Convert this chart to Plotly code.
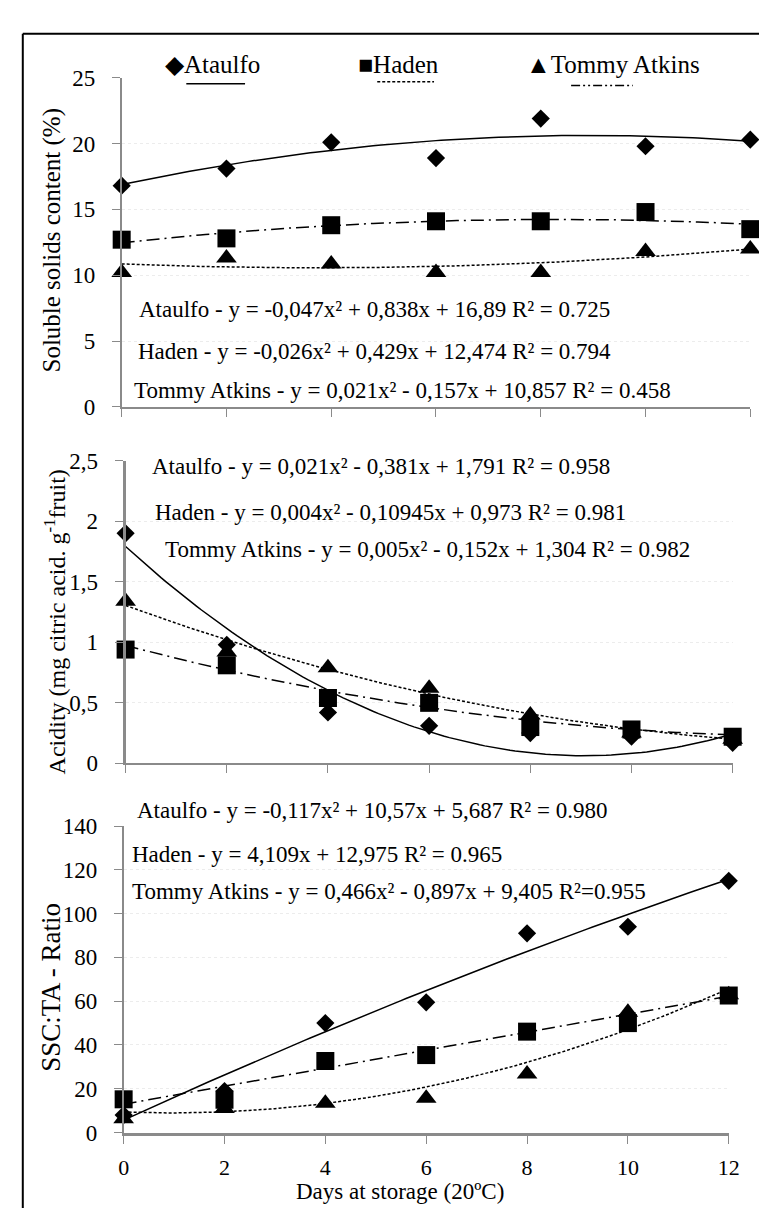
import numpy as np
import plotly.graph_objects as go

W, H = 767, 1213
FONT = "Liberation Serif"

days = [0, 2, 4, 6, 8, 10, 12]

# Panel 1: soluble solids content (%)
ssc_ataulfo = [16.8, 18.1, 20.1, 18.9, 21.9, 19.8, 20.3]
ssc_haden = [12.7, 12.8, 13.8, 14.1, 14.1, 14.8, 13.5]
ssc_tommy = [10.2, 11.3, 10.85, 10.2, 10.2, 11.8, 12.0]
ssc_fit_ataulfo = [-0.047, 0.838, 16.89]
ssc_fit_haden = [-0.026, 0.429, 12.474]
ssc_fit_tommy = [0.021, -0.157, 10.857]

# Panel 2: acidity
ac_ataulfo = [1.90, 0.98, 0.42, 0.31, 0.25, 0.22, 0.17]
ac_haden = [0.94, 0.81, 0.54, 0.50, 0.30, 0.28, 0.22]
ac_tommy = [1.34, 0.92, 0.79, 0.62, 0.40, 0.25, 0.20]
ac_fit_ataulfo = [0.021, -0.381, 1.791]
ac_fit_haden = [0.004, -0.10945, 0.973]
ac_fit_tommy = [0.005, -0.152, 1.304]

# Panel 3: SSC:TA ratio
rt_ataulfo = [8, 19, 50, 59.5, 91, 94, 115]
rt_haden = [15.2, 15, 32.7, 35.4, 46.1, 50, 62.6]
rt_tommy = [6.3, 11, 13.4, 15.7, 26.8, 55, 63]
rt_fit_ataulfo = [-0.117, 10.57, 5.687]
rt_fit_haden = [0.0, 4.109, 12.975]
rt_fit_tommy = [0.466, -0.897, 9.405]

ac_ticks = [0, 0.5, 1, 1.5, 2, 2.5]
ac_ticktext = ["0", "0,5", "1", "1,5", "2", "2,5"]

eq_ssc = ["Ataulfo - y = -0,047x² + 0,838x + 16,89 R² = 0.725",
          "Haden - y = -0,026x² + 0,429x + 12,474 R² = 0.794",
          "Tommy Atkins - y = 0,021x² - 0,157x + 10,857 R² = 0.458"]
eq_ac = ["Ataulfo - y = 0,021x² - 0,381x + 1,791 R² = 0.958",
         "Haden - y = 0,004x² - 0,10945x + 0,973 R² = 0.981",
         "Tommy Atkins - y = 0,005x² - 0,152x + 1,304 R² = 0.982"]
eq_rt = ["Ataulfo - y = -0,117x² + 10,57x + 5,687 R² = 0.980",
         "Haden - y = 4,109x + 12,975 R² = 0.965",
         "Tommy Atkins - y = 0,466x² - 0,897x + 9,405 R²=0.955"]

def px(x):
    return x / W

def py(y):
    return 1 - y / H

xs = np.linspace(0, 12, 121)

HADEN_DASH = "13px,5px,2px,5px"
TOMMY_DASH = "3px,2px"

fig = go.Figure()

panels = [
    ("x", "y", ssc_ataulfo, ssc_haden, ssc_tommy, ssc_fit_ataulfo, ssc_fit_haden, ssc_fit_tommy),
    ("x2", "y2", ac_ataulfo, ac_haden, ac_tommy, ac_fit_ataulfo, ac_fit_haden, ac_fit_tommy),
    ("x3", "y3", rt_ataulfo, rt_haden, rt_tommy, rt_fit_ataulfo, rt_fit_haden, rt_fit_tommy),
]

for xa, ya, a, h, t, fa, fh, ft in panels:
    for coef, dash in [(fa, "solid"), (fh, HADEN_DASH), (ft, TOMMY_DASH)]:
        fig.add_trace(go.Scatter(x=xs, y=np.polyval(coef, xs), mode="lines",
                                 line=dict(color="black", width=1.5, dash=dash),
                                 xaxis=xa, yaxis=ya, showlegend=False, hoverinfo="skip"))
    for vals, sym, size in [(t, "triangle-up", 18), (h, "square", 18), (a, "diamond", 14)]:
        fig.add_trace(go.Scatter(x=days, y=vals, mode="markers",
                                 marker=dict(symbol=sym, size=size, color="black"),
                                 xaxis=xa, yaxis=ya, showlegend=False, cliponaxis=False))

axis_common = dict(showline=True, linecolor="#8a8a8a", ticks="outside", ticklen=8,
                   tickcolor="#8a8a8a", zeroline=False,
                   tickfont=dict(family=FONT, size=23, color="black"))
grid = dict(showgrid=True, gridcolor="#ececec", griddash="dot", gridwidth=1)

fig.update_layout(
    width=W, height=H, margin=dict(l=0, r=0, t=0, b=0),
    paper_bgcolor="white", plot_bgcolor="white", showlegend=False,
    font=dict(family=FONT, color="black"),
    xaxis=dict(domain=[px(111), px(753)], range=[0, 12], dtick=2, anchor="y",
               showticklabels=False, showgrid=False, linewidth=1.5, **axis_common),
    yaxis=dict(domain=[py(395), py(59)], range=[0, 25], dtick=5, anchor="x",
               ticklabelstandoff=12, linewidth=1.5, **grid, **axis_common),
    xaxis2=dict(domain=[px(115), px(735)], range=[0, 12], dtick=2, anchor="y2",
                showticklabels=False, showgrid=False, linewidth=1.5, **axis_common),
    yaxis2=dict(domain=[py(759), py(450)], range=[0, 2.5], anchor="x2",
                tickvals=ac_ticks, ticktext=ac_ticktext, ticklabelstandoff=12,
                linewidth=3, **grid, **axis_common),
    xaxis3=dict(domain=[px(113), px(731)], range=[0, 12], dtick=2, anchor="y3",
                showgrid=False, ticklabelstandoff=5, linewidth=3, **axis_common),
    yaxis3=dict(domain=[py(1136), py(823)], range=[0, 140], dtick=20, anchor="x3",
                ticklabelstandoff=12, linewidth=1.5, **grid, **axis_common),
)
fig.update_layout(xaxis3_tickfont=dict(family=FONT, size=22, color="black"))

annotations = []

def text_at(x, y, s, size, xanchor="left", angle=0):
    annotations.append(dict(x=px(x), y=py(y), xref="paper", yref="paper", text=s,
                            showarrow=False, xanchor=xanchor, yanchor="middle",
                            textangle=angle,
                            font=dict(family=FONT, size=size, color="black")))

for (x, y), s in zip([(127, 296), (126, 338), (122, 378)], eq_ssc):
    text_at(x, y, s, 23)
for (x, y), s in zip([(140, 456), (143, 503), (153, 541)], eq_ac):
    text_at(x, y, s, 23)
for (x, y), s in zip([(125, 807), (119, 852), (119, 890)], eq_rt):
    text_at(x, y, s, 23)

# axis titles
text_at(40, 225, "Soluble solids content (%)", 25, xanchor="center", angle=-90)
text_at(43, 615, "Acidity (mg citric acid. g<sup>-1</sup>fruit)", 24, xanchor="center", angle=-90)
text_at(38, 988, "SSC:TA - Ratio", 27, xanchor="center", angle=-90)
text_at(395, 1196, "Days at storage (20ºC)", 23, xanchor="center")

# legend
text_at(204, 45, "◆Ataulfo", 25, xanchor="center")
text_at(394, 45, "■Haden", 25, xanchor="center")
text_at(613, 45, "▲Tommy Atkins", 25, xanchor="center")

shapes = [
    dict(type="line", xref="paper", yref="paper", x0=px(177), x1=px(237), y0=py(65), y1=py(65),
         line=dict(color="black", width=1.5)),
    dict(type="line", xref="paper", yref="paper", x0=px(372), x1=px(430), y0=py(63), y1=py(63),
         line=dict(color="black", width=1.5, dash="3px,2px")),
    dict(type="line", xref="paper", yref="paper", x0=px(570), x1=px(633), y0=py(67), y1=py(67),
         line=dict(color="black", width=1.5, dash="9px,3px,2px,3px,2px,3px")),
    # outer frame
    dict(type="line", xref="paper", yref="paper", x0=px(10), x1=px(767), y0=py(14), y1=py(14),
         line=dict(color="black", width=2)),
    dict(type="line", xref="paper", yref="paper", x0=px(10), x1=px(10), y0=py(14), y1=py(1213),
         line=dict(color="black", width=2)),
]

fig.update_layout(annotations=annotations, shapes=shapes)
fig.write_html("out.html")
